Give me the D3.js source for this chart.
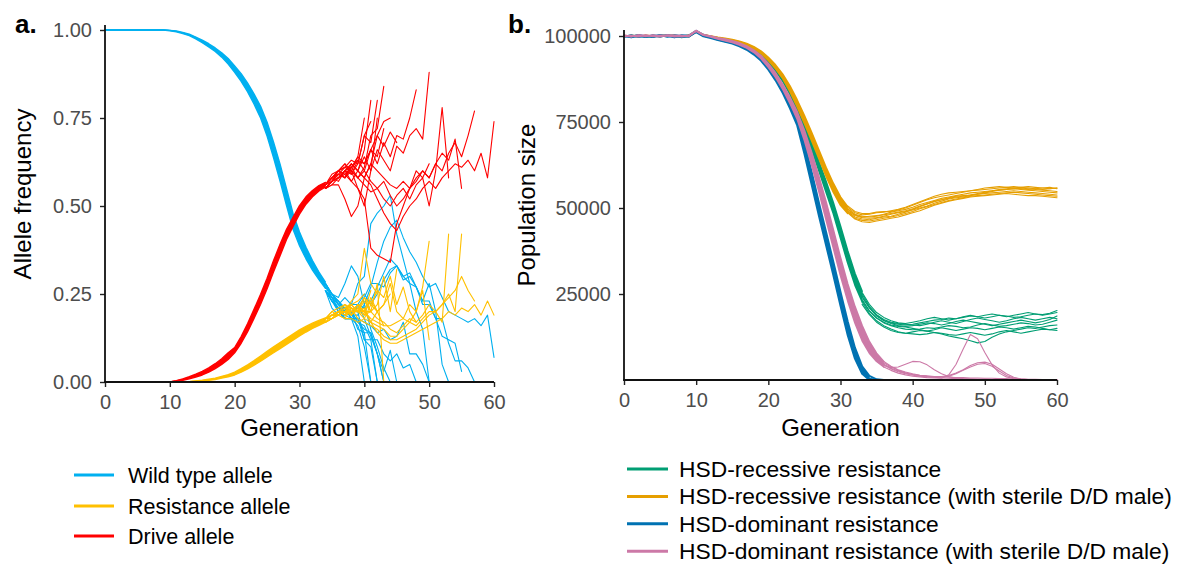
<!DOCTYPE html>
<html><head><meta charset="utf-8">
<script src="https://cdn.jsdelivr.net/npm/d3@7"></script>
<style>body{margin:0;background:#fff}svg{display:block}text{font-family:"Liberation Sans",Arial,sans-serif}</style>
</head><body><svg id="c" width="1180" height="568"></svg>
<script>
const genTicks = [0,10,20,30,40,50,60];
const freqTicks = [0,0.25,0.5,0.75,1];
const popTicks = [25000,50000,75000,100000];
const alleleNames = ["Wild type allele","Resistance allele","Drive allele"];
const alleleColors = ["#00B0F0","#FFC000","#FF0000"];
const popNames = ["HSD-recessive resistance","HSD-recessive resistance (with sterile D/D male)","HSD-dominant resistance","HSD-dominant resistance (with sterile D/D male)"];
const popColors = ["#009E73","#E69F00","#0072B2","#CC79A7"];

// ---------- Panel a: allele frequency ----------
const wtStart = 0;
const wtCoreA = [1,1,1,1,1,1,1,1,1,1,0.998,0.995,0.99,0.984,0.975,0.964,0.952,0.939,0.923,0.903,0.88,0.854,0.824,0.789,0.75,0.699,0.637,0.571,0.501,0.434,0.387,0.35,0.318,0.291,0.266];
const wtCoreB = [1,1,1,1,1,1,1,1,1,1,0.999,0.996,0.992,0.986,0.978,0.968,0.957,0.945,0.93,0.912,0.89,0.866,0.838,0.806,0.77,0.72,0.66,0.595,0.525,0.455,0.405,0.365,0.33,0.3,0.275];
const wtCoreC = [1,1,1,1,1,1,1,1,1,1,0.999,0.997,0.993,0.988,0.98,0.971,0.961,0.949,0.935,0.919,0.898,0.876,0.849,0.818,0.783,0.738,0.681,0.619,0.549,0.479,0.426,0.383,0.345,0.312,0.284];
const drStart = 10;
const drCoreA = [0,0.002,0.005,0.009,0.014,0.02,0.028,0.038,0.05,0.064,0.083,0.11,0.143,0.181,0.221,0.265,0.313,0.359,0.405,0.442,0.477,0.505,0.526,0.543,0.554];
const drCoreB = [0,0.003,0.007,0.012,0.018,0.025,0.034,0.045,0.058,0.073,0.09,0.12,0.155,0.195,0.235,0.28,0.33,0.375,0.42,0.455,0.49,0.515,0.535,0.55,0.56];
const drCoreC = [0,0.004,0.009,0.015,0.022,0.03,0.04,0.052,0.066,0.083,0.098,0.129,0.166,0.207,0.249,0.295,0.345,0.391,0.434,0.468,0.501,0.526,0.544,0.558,0.567];
const rsStart = 12;
const rsCoreA = [0,0.001,0.002,0.003,0.005,0.007,0.011,0.015,0.02,0.028,0.037,0.048,0.059,0.071,0.083,0.095,0.107,0.119,0.131,0.142,0.152,0.161,0.17];
const rsCoreB = [0,0.001,0.002,0.004,0.006,0.009,0.013,0.018,0.024,0.033,0.043,0.055,0.067,0.08,0.092,0.104,0.116,0.128,0.14,0.15,0.159,0.168,0.176];
const rsCoreC = [0,0.001,0.003,0.005,0.008,0.011,0.016,0.021,0.028,0.038,0.049,0.061,0.074,0.087,0.1,0.112,0.124,0.136,0.148,0.158,0.167,0.175,0.182];

const tailStart = 34;
const drTails = [
 [0.56,0.58,0.6,0.61,0.6,0.64,0.75],
 [0.55,0.57,0.59,0.58,0.62,0.6,0.66,0.8],
 [0.56,0.58,0.57,0.6,0.59,0.62,0.7,0.68,0.8],
 [0.55,0.56,0.58,0.6,0.57,0.55,0.5,0.6,0.75],
 [0.56,0.57,0.6,0.62,0.6,0.58,0.61,0.7,0.72,0.84],
 [0.55,0.57,0.58,0.6,0.61,0.63,0.62,0.66,0.64,0.72],
 [0.56,0.59,0.6,0.58,0.61,0.64,0.62,0.66,0.7,0.67,0.71,0.68],
 [0.55,0.57,0.59,0.58,0.6,0.55,0.52,0.38,0.36,0.35,0.34,0.45,0.5,0.55,0.6,0.58,0.62],
 [0.56,0.58,0.6,0.62,0.59,0.63,0.6,0.66,0.62,0.68,0.64,0.7,0.69,0.75,0.83],
 [0.55,0.57,0.58,0.6,0.62,0.6,0.64,0.6,0.66,0.63,0.6,0.67,0.65,0.7,0.72,0.69,0.88],
 [0.56,0.58,0.59,0.61,0.6,0.58,0.6,0.57,0.55,0.52,0.5,0.53,0.55,0.52,0.56,0.58,0.5,0.6,0.78,0.58],
 [0.55,0.57,0.58,0.59,0.57,0.6,0.58,0.62,0.6,0.58,0.56,0.55,0.57,0.55,0.58,0.6,0.58,0.62,0.65,0.63,0.69,0.55],
 [0.56,0.58,0.6,0.59,0.61,0.58,0.56,0.54,0.55,0.57,0.53,0.5,0.52,0.55,0.57,0.6,0.58,0.62,0.6,0.65,0.68,0.64,0.7,0.77],
 [0.55,0.57,0.58,0.6,0.62,0.6,0.58,0.56,0.52,0.48,0.45,0.43,0.47,0.5,0.52,0.55,0.57,0.55,0.58,0.6,0.62,0.61,0.63,0.6,0.65,0.58,0.74],
 [0.55,0.56,0.56,0.52,0.47,0.5,0.58,0.62,0.7,0.74,0.75],
 [0.56,0.57,0.6,0.61,0.63,0.62,0.7,0.74]
];
const rsTails = [
 [0.18,0.19,0.2,0.21,0.22,0.23,0.25],
 [0.17,0.18,0.19,0.21,0.2,0.22,0.2,0.2],
 [0.18,0.19,0.2,0.19,0.22,0.2,0.18,0.22,0.2],
 [0.18,0.2,0.19,0.2,0.23,0.25,0.38,0.28,0.25],
 [0.18,0.19,0.2,0.2,0.22,0.2,0.21,0.17,0.2,0.16],
 [0.17,0.19,0.2,0.22,0.21,0.2,0.23,0.2,0.28,0],
 [0.18,0.2,0.21,0.22,0.19,0.21,0.24,0.2,0.22,0.3,0.2,0.32],
 [0.18,0.18,0.19,0.18,0.18,0.17,0.18,0.17,0.16,0.15,0.13,0.13,0.15,0.17,0.2,0.27,0.4],
 [0.18,0.19,0.19,0.18,0.21,0.2,0.24,0.22,0.26,0.24,0.3,0.22,0.27,0.2,0.17],
 [0.17,0.18,0.2,0.19,0.2,0.22,0.19,0.24,0.2,0.22,0.28,0.2,0.18,0.22,0.2,0.26,0.12],
 [0.18,0.19,0.2,0.19,0.21,0.2,0.19,0.2,0.18,0.17,0.15,0.14,0.16,0.18,0.17,0.19,0.22,0.2,0.17,0.42],
 [0.17,0.18,0.19,0.2,0.21,0.18,0.17,0.16,0.15,0.13,0.12,0.12,0.13,0.14,0.15,0.17,0.19,0.2,0.22,0.25,0.2,0.42],
 [0.18,0.19,0.19,0.2,0.19,0.21,0.2,0.18,0.17,0.16,0.16,0.17,0.18,0.17,0.16,0.18,0.2,0.2,0.22,0.24,0.26,0.3,0.26,0.23],
 [0.17,0.18,0.19,0.2,0.19,0.21,0.2,0.17,0.14,0.12,0.11,0.11,0.12,0.13,0.14,0.15,0.16,0.17,0.18,0.2,0.19,0.21,0.2,0.22,0.19,0.23,0.19],
 [0.18,0.19,0.2,0.2,0.2,0.2,0.2,0.23,0.2,0.22,0.25],
 [0.18,0.19,0.19,0.2,0.19,0.22,0.2,0.26]
];
const wtTails = [
 [0.26,0.23,0.2,0.18,0.18,0.13,0],
 [0.28,0.25,0.22,0.21,0.18,0.18,0.14,0],
 [0.26,0.23,0.23,0.21,0.19,0.18,0.12,0.1,0],
 [0.27,0.24,0.23,0.2,0.2,0.2,0.12,0.12,0],
 [0.26,0.24,0.2,0.18,0.18,0.22,0.18,0.13,0.08,0],
 [0.28,0.24,0.22,0.18,0.18,0.17,0.15,0.14,0.08,0],
 [0.26,0.21,0.19,0.2,0.2,0.15,0.14,0.14,0.08,0.03,0.09,0],
 [0.27,0.25,0.22,0.24,0.22,0.28,0.3,0.45,0.48,0.5,0.53,0.42,0.35,0.28,0.2,0.15,0],
 [0.26,0.23,0.21,0.2,0.2,0.17,0.16,0.12,0.12,0.08,0.06,0.08,0.04,0.05,0],
 [0.28,0.25,0.22,0.21,0.18,0.18,0.17,0.16,0.14,0.15,0.12,0.13,0.17,0.08,0.08,0.05,0],
 [0.26,0.23,0.21,0.2,0.19,0.22,0.21,0.23,0.27,0.31,0.35,0.33,0.29,0.3,0.27,0.23,0.28,0.2,0.05,0],
 [0.28,0.25,0.23,0.21,0.22,0.22,0.25,0.22,0.25,0.29,0.32,0.33,0.3,0.31,0.27,0.23,0.23,0.18,0.13,0.12,0.11,0.03],
 [0.26,0.23,0.21,0.21,0.2,0.21,0.24,0.28,0.28,0.27,0.31,0.33,0.3,0.28,0.27,0.22,0.22,0.18,0.18,0.11,0.06,0.06,0.04,0],
 [0.28,0.25,0.23,0.2,0.19,0.19,0.22,0.27,0.34,0.4,0.44,0.46,0.41,0.37,0.34,0.3,0.27,0.28,0.24,0.2,0.19,0.18,0.17,0.18,0.16,0.19,0.07],
 [0.27,0.25,0.24,0.28,0.33,0.3,0.22,0.15,0.1,0.04,0],
 [0.26,0.24,0.21,0.19,0.18,0.16,0.1,0]
];

// ---------- Panel b: population size (thousands) ----------
const recCores = [
 [100.1,99.7,100.0,99.8,100.1,99.9,100.2,100.0,99.6,100.1,101.2,100.1,99.7,99.2,98.8,98.4,97.8,97.0,95.9,94.4,92.3,89.8,86.8,83.0,78.2,72.8,67.0,60.8,54.6,48.4,41.2,34.0,27.6,22.8],
 [99.9,100.0,100.2,99.7,100.0,100.1,99.9,100.2,99.9,100.0,101.3,100.3,99.9,99.4,99.0,98.6,98.0,97.2,96.1,94.7,92.6,90.2,87.3,83.6,79.0,73.8,68.2,62.2,56.2,50.0,43.0,35.8,29.4,24.4],
 [100.0,99.9,100.1,100.0,99.8,100.2,100.1,99.8,100.0,100.2,101.4,100.2,99.8,99.5,99.1,98.7,98.2,97.4,96.4,95.0,93.0,90.6,87.8,84.2,79.8,74.8,69.4,63.6,57.8,51.6,44.8,37.6,31.0,25.8]
];
const recTailStart = 33;
const recTails = [
 [23.0,20.0,18.0,16.6,15.8,15.2,14.8,14.6,14.8,15.2,15.0,15.4,15.8,15.6,15.2,15.4,16.0,16.4,16.0,15.6,15.8,16.2,16.6,16.4,16.0,16.2,16.8,17.4],
 [24.0,21.0,18.8,17.4,16.6,16.2,16.0,16.2,16.6,17.0,17.4,17.6,18.0,17.8,18.2,18.6,18.4,18.0,18.4,18.8,18.6,18.2,18.4,18.8,19.2,19.0,19.4,20.2],
 [22.6,19.4,17.2,15.8,14.8,14.0,13.6,13.4,13.2,13.4,13.8,13.6,13.2,13.0,13.4,13.8,13.4,13.0,13.4,14.0,14.4,14.0,13.6,14.0,14.4,14.8,14.6,15.0],
 [25.0,21.4,19.0,17.6,16.8,16.4,16.2,16.0,15.8,16.2,16.8,17.2,16.8,16.4,17.0,17.6,18.0,17.6,17.2,16.8,17.2,17.8,18.2,17.8,17.4,17.8,18.2,17.8],
 [23.4,20.2,18.0,16.8,16.0,15.6,15.4,15.0,14.6,14.2,13.8,13.4,12.8,12.4,12.0,11.4,10.8,11.2,12.4,13.4,14.0,14.4,14.8,15.2,15.0,15.4,15.8,16.0],
 [24.4,21.0,18.6,17.2,16.4,15.8,15.6,15.8,16.2,16.6,16.4,16.0,16.4,17.0,17.4,17.0,16.6,16.2,15.8,16.2,16.6,17.0,17.4,17.0,16.6,17.0,17.6,18.6],
 [22.0,19.0,16.8,15.4,14.4,13.8,13.6,14.0,14.4,14.2,14.6,15.2,14.8,14.4,14.8,15.2,15.0,14.6,15.0,15.4,15.2,14.8,15.2,15.6,15.4,15.0,14.6,14.4],
 [25.4,22.0,19.6,18.2,17.2,16.6,16.4,16.8,17.2,17.8,18.2,17.8,17.4,17.8,18.4,18.8,18.4,18.8,19.2,18.8,18.4,18.8,19.2,19.6,19.2,18.8,19.2,19.6]
];
const recSterCores = [
 [99.8,100.2,99.9,100.1,99.7,100.2,100.0,99.9,100.1,99.8,101.2,100.2,99.8,99.4,99.0,98.6,98.1,97.3,96.3,94.9,92.9,90.5,87.6,83.8,79.4,74.6,69.6,64.4,59.2,54.6,50.8,48.4],
 [100.0,99.9,100.2,99.8,100.1,100.0,100.2,99.8,100.0,100.1,101.4,100.3,99.9,99.5,99.1,98.8,98.3,97.6,96.6,95.3,93.4,91.1,88.3,84.7,80.5,75.8,70.8,65.6,60.4,55.8,52.0,49.4],
 [100.1,100.0,99.8,100.2,100.0,99.9,100.1,100.2,99.7,100.2,101.5,100.4,100.0,99.6,99.3,99.0,98.5,97.8,96.9,95.6,93.8,91.6,88.9,85.5,81.4,76.9,72.0,66.9,61.8,57.2,53.2,50.4]
];
const recSterTailStart = 31;
const recSterTails = [
 [49.0,47.4,46.8,46.6,47.0,47.4,47.6,48.2,48.8,49.6,50.4,51.2,52.0,52.4,53.0,53.4,53.6,53.8,54.2,54.6,55.0,55.2,55.4,55.6,55.4,55.2,55.0,54.8,54.6,54.4],
 [48.6,46.8,46.0,45.8,46.2,46.6,47.0,47.4,48.0,48.6,49.2,50.0,50.8,51.4,52.0,52.4,52.8,53.2,53.4,53.6,53.8,54.0,54.2,54.0,53.8,53.6,53.6,53.4,53.2,53.0],
 [50.2,48.6,48.0,48.2,48.6,48.8,49.2,49.6,50.2,51.0,51.8,52.6,53.4,54.0,54.4,54.6,54.8,55.0,55.4,55.8,56.0,56.2,56.0,55.8,56.0,56.2,56.0,55.8,55.6,55.8],
 [49.6,48.0,47.4,47.6,47.8,48.0,48.4,48.8,49.2,49.8,50.6,51.2,51.8,52.4,52.8,53.2,53.4,53.8,54.0,54.4,54.8,55.2,55.4,55.6,55.8,55.6,55.4,55.2,55.0,54.8],
 [49.2,47.8,47.2,47.0,47.2,47.6,48.2,48.6,49.0,49.4,50.0,50.6,51.4,52.0,52.6,53.0,53.2,53.6,54.0,54.2,54.4,54.6,54.8,55.0,54.8,54.6,54.4,54.2,54.0,53.8],
 [50.6,49.0,48.4,48.4,48.8,49.0,49.0,49.4,50.0,50.8,51.6,52.4,53.0,53.4,53.8,54.2,54.6,55.0,55.2,55.4,55.6,55.8,56.0,56.2,56.0,55.8,55.6,55.4,55.6,55.8],
 [48.8,47.0,46.4,46.2,46.6,47.0,47.4,47.8,48.4,49.0,49.8,50.4,51.0,51.6,52.2,52.6,53.0,53.4,53.6,53.8,54.0,54.2,54.4,54.6,54.4,54.2,54.0,53.8,53.6,53.4],
 [49.8,48.2,47.6,47.4,47.6,48.2,48.8,49.2,49.6,50.2,51.0,51.6,52.2,52.8,53.2,53.6,54.0,54.4,54.6,54.8,55.0,55.4,55.6,55.8,55.6,55.4,55.6,55.8,56.0,55.6]
];
const domCores = [
 [100.0,99.6,100.1,99.7,100.2,99.8,100.3,99.9,99.7,100.0,101.1,99.9,99.4,98.8,98.3,97.8,97.0,96.0,94.6,92.8,90.2,87.1,83.4,79.0,74.0,65.8,56.8,47.8,39.2,30.5,21.6,13.0,6.2,1.8,0.0],
 [99.8,100.2,99.7,100.1,99.9,100.3,99.8,100.2,100.0,99.8,101.3,100.1,99.6,99.0,98.5,98.0,97.3,96.3,95.0,93.2,90.7,87.7,84.1,79.9,75.2,67.4,58.6,49.6,41.0,32.2,23.4,14.8,7.6,2.6,0.4,0.0],
 [100.1,99.8,100.3,99.9,99.7,100.1,100.0,99.6,100.2,100.1,101.5,100.3,99.8,99.2,98.8,98.3,97.6,96.7,95.4,93.7,91.3,88.4,85.0,81.0,76.5,69.0,60.5,51.6,43.0,34.4,25.6,17.0,9.4,4.0,1.2,0.2,0.0]
];
const domSterCores = [
 [100.0,99.8,100.2,99.9,100.3,100.0,100.1,99.8,100.0,100.2,101.4,100.2,99.7,99.1,98.6,98.1,97.4,96.5,95.2,93.4,90.9,88.0,84.5,80.4,75.8,69.6,62.4,54.8,46.6,38.4,30.3,23.0,16.6,11.4,7.8,5.4,3.8],
 [99.9,100.1,99.8,100.3,99.9,100.2,100.1,100.0,99.8,100.1,101.6,100.4,99.9,99.3,98.8,98.3,97.6,96.7,95.5,93.8,91.4,88.6,85.2,81.2,76.8,71.0,64.2,57.0,49.2,41.2,33.0,25.6,19.0,13.6,9.4,6.6,4.6],
 [100.2,99.9,100.3,100.1,100.0,99.8,100.3,100.2,100.1,99.9,101.5,100.3,100.0,99.5,99.1,98.6,98.0,97.1,95.9,94.3,92.0,89.3,86.0,82.2,78.0,72.6,66.2,59.2,51.8,43.8,35.6,28.0,21.4,15.8,11.2,7.8,5.4]
];
const domSterTailStart = 36;
const domSterTails = [
 [4.6,3.4,2.6,2.0,1.6,1.3,1.0,0.8,0.6,0.5,0.4,0.3,0.3,0.2,0.2,0.1,0.1,0.1,0.1,0.0,0.0,0.0,0.0,0.0,0.0],
 [4.2,3.6,3.8,4.6,5.4,5.3,4.4,3.0,1.8,1.0,0.6,0.4,0.3,0.2,0.2,0.1,0.1,0.1,0.0,0.0,0.0,0.0,0.0,0.0,0.0],
 [3.8,2.8,2.0,1.5,1.1,0.9,0.7,0.6,0.5,1.5,4.5,9.0,13.2,12.0,8.0,4.4,2.0,0.9,0.4,0.2,0.1,0.1,0.0,0.0,0.0],
 [5.0,3.8,2.8,2.1,1.6,1.3,1.1,1.0,1.0,1.3,2.0,3.0,4.2,5.0,5.2,4.6,3.2,1.8,0.8,0.3,0.1,0.1,0.0,0.0,0.0],
 [4.4,3.2,2.4,1.8,1.4,1.1,0.9,0.8,0.8,1.1,1.8,2.8,3.8,4.6,4.8,4.0,2.6,1.3,0.6,0.3,0.1,0.0,0.0,0.0,0.0],
 [5.4,4.0,3.0,2.3,1.8,1.4,1.2,1.0,0.9,0.8,0.7,0.7,0.6,0.6,0.5,0.5,0.4,0.4,0.3,0.3,0.2,0.2,0.1,0.1,0.0]
];

// ---------- drawing ----------
const svg = d3.select('#c');
const xL = d3.scaleLinear().domain([0,60]).range([105,494]);
const yL = d3.scaleLinear().domain([0,1]).range([382,30]);
const xR = d3.scaleLinear().domain([0,60]).range([624,1057]);
const yR = d3.scaleLinear().domain([0,100000]).range([380,36]);

function pts(vals, start, k){ return vals.map((v,i)=>[start+i, v*k]).filter(p=>p[0]<=60); }
function drawSet(list, start, x, y, color, sw, k){
  const line = d3.line().x(d=>x(d[0])).y(d=>y(d[1]));
  svg.append('g').selectAll('path').data(list).enter().append('path')
    .attr('d', d=>line(pts(d,start,k)))
    .attr('fill','none').attr('stroke',color).attr('stroke-width',sw)
    .attr('stroke-linejoin','round').attr('stroke-linecap','round');
}
function drawBand(lo, hi, start, x, y, color, k){
  const n = Math.min(lo.length, hi.length);
  const data = lo.slice(0,n).map((v,i)=>[start+i, v*k, hi[i]*k]);
  svg.append('path').datum(data)
    .attr('d', d3.area().x(d=>x(d[0])).y0(d=>y(d[1])).y1(d=>y(d[2])))
    .attr('fill', color);
}

// panel a
drawBand(wtCoreA, wtCoreC, wtStart, xL, yL, alleleColors[0], 1);
drawSet([wtCoreA,wtCoreB,wtCoreC], wtStart, xL, yL, alleleColors[0], 1.4, 1);
drawSet(wtTails, tailStart, xL, yL, alleleColors[0], 1.1, 1);
drawBand(rsCoreA, rsCoreC, rsStart, xL, yL, alleleColors[1], 1);
drawSet([rsCoreA,rsCoreB,rsCoreC], rsStart, xL, yL, alleleColors[1], 1.4, 1);
drawSet(rsTails, tailStart, xL, yL, alleleColors[1], 1.1, 1);
drawBand(drCoreA, drCoreC, drStart, xL, yL, alleleColors[2], 1);
drawSet([drCoreA,drCoreB,drCoreC], drStart, xL, yL, alleleColors[2], 1.4, 1);
drawSet(drTails, tailStart, xL, yL, alleleColors[2], 1.1, 1);

// panel b
drawBand(recCores[0], recCores[2], 0, xR, yR, popColors[0], 1000);
drawSet(recCores, 0, xR, yR, popColors[0], 1.6, 1000);
drawSet(recTails, recTailStart, xR, yR, popColors[0], 1.1, 1000);
drawBand(recSterCores[0], recSterCores[2], 0, xR, yR, popColors[1], 1000);
drawSet(recSterCores, 0, xR, yR, popColors[1], 1.6, 1000);
drawSet(recSterTails, recSterTailStart, xR, yR, popColors[1], 1.1, 1000);
drawBand(domCores[0], domCores[2], 0, xR, yR, popColors[2], 1000);
drawSet(domCores, 0, xR, yR, popColors[2], 2.0, 1000);
drawBand(domSterCores[0], domSterCores[2], 0, xR, yR, popColors[3], 1000);
drawSet(domSterCores, 0, xR, yR, popColors[3], 1.6, 1000);
drawSet(domSterTails, domSterTailStart, xR, yR, popColors[3], 1.1, 1000);

// axes
function styleAxis(g){
  g.select('.domain').remove();
  g.selectAll('.tick line').attr('stroke','#222').attr('stroke-width',1.4);
  g.selectAll('.tick text').attr('fill','#4d4d4d').style('font-size','20px').style('font-family','"Liberation Sans",Arial,sans-serif');
}
const axL = svg.append('g');
axL.append('g').attr('transform','translate(0,382)')
  .call(d3.axisBottom(xL).tickValues(genTicks).tickSize(5).tickPadding(8)).call(styleAxis);
axL.append('g').attr('transform','translate(105,0)')
  .call(d3.axisLeft(yL).tickValues(freqTicks).tickFormat(d3.format('.2f')).tickSize(5).tickPadding(8)).call(styleAxis);
axL.append('line').attr('x1',105).attr('x2',105).attr('y1',25).attr('y2',382.8).attr('stroke','#111').attr('stroke-width',1.8);
axL.append('line').attr('x1',104.2).attr('x2',494).attr('y1',382).attr('y2',382).attr('stroke','#111').attr('stroke-width',1.8);

const axR = svg.append('g');
axR.append('g').attr('transform','translate(0,380)')
  .call(d3.axisBottom(xR).tickValues(genTicks).tickSize(5).tickPadding(8)).call(styleAxis);
axR.append('g').attr('transform','translate(624,0)')
  .call(d3.axisLeft(yR).tickValues(popTicks).tickFormat(d3.format('d')).tickSize(5).tickPadding(8)).call(styleAxis);
axR.append('line').attr('x1',624).attr('x2',624).attr('y1',30).attr('y2',380.8).attr('stroke','#111').attr('stroke-width',1.8);
axR.append('line').attr('x1',623.2).attr('x2',1057).attr('y1',380).attr('y2',380).attr('stroke','#111').attr('stroke-width',1.8);

// titles
svg.append('text').attr('x',299.5).attr('y',436).attr('text-anchor','middle').style('font-size','24px').attr('fill','#000').text('Generation');
svg.append('text').attr('x',840.5).attr('y',436).attr('text-anchor','middle').style('font-size','24px').attr('fill','#000').text('Generation');
svg.append('text').attr('transform','translate(31,194) rotate(-90)').attr('text-anchor','middle').style('font-size','24px').attr('fill','#000').text('Allele frequency');
svg.append('text').attr('transform','translate(535,205) rotate(-90)').attr('text-anchor','middle').style('font-size','24px').attr('fill','#000').text('Population size');
svg.append('text').attr('x',15).attr('y',33).style('font-size','26px').style('font-weight','bold').attr('fill','#000').text('a.');
svg.append('text').attr('x',508).attr('y',33).style('font-size','26px').style('font-weight','bold').attr('fill','#000').text('b.');

// legends
const legL = svg.append('g');
const legLRowY = [475,506,536];
alleleNames.forEach((n,i)=>{
  legL.append('line').attr('x1',74).attr('x2',114).attr('y1',legLRowY[i]).attr('y2',legLRowY[i]).attr('stroke',alleleColors[i]).attr('stroke-width',3);
  legL.append('text').attr('x',128).attr('y',legLRowY[i]+7.5).style('font-size','21.5px').attr('fill','#000').text(n);
});
const legR = svg.append('g');
popNames.forEach((n,i)=>{
  const yy = 469 + i*27.4;
  legR.append('line').attr('x1',627).attr('x2',668).attr('y1',yy).attr('y2',yy).attr('stroke',popColors[i]).attr('stroke-width',3);
  legR.append('text').attr('x',679).attr('y',yy+8).style('font-size','22.8px').attr('fill','#000').text(n);
});
</script></body></html>
